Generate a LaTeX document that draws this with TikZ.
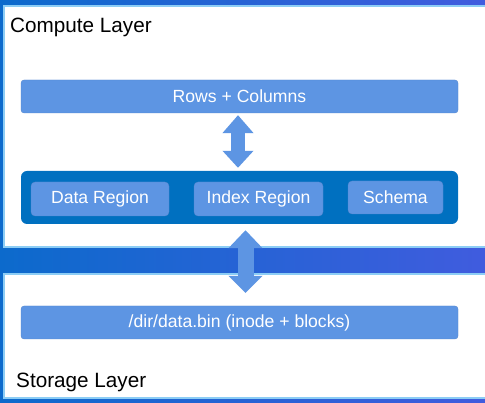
\documentclass[tikz,border=0pt]{standalone}
\usepackage{fontspec}
\setmainfont{Liberation Sans}
\usetikzlibrary{arrows.meta}
\definecolor{boxblue}{RGB}{93,149,227}
\definecolor{darkbox}{RGB}{0,112,192}
\definecolor{panelborder}{RGB}{140,205,245}
\definecolor{bgleft}{RGB}{12,106,204}
\definecolor{bgright}{RGB}{64,92,222}
\tikzset{
  panel/.style={fill=white, draw=panelborder, line width=1.6pt},
  lightbox/.style={fill=boxblue, draw=boxblue!90!black, line width=0.3pt, rounded corners=3pt, inner sep=0pt, text=white, font=\fontsize{17.6}{20}\selectfont},
  container/.style={fill=darkbox, rounded corners=6pt, inner sep=0pt},
  layerlabel/.style={anchor=base west, inner sep=0pt, font=\fontsize{20.7}{24}\selectfont},
  dblarrow/.style={draw=boxblue, line width=#1},
}
\begin{document}
\begin{tikzpicture}[x=1pt,y=-1pt]
\useasboundingbox (0,0) rectangle (485,403);
\shade[left color=bgleft, right color=bgright] (0,0) rectangle (485,403);
% panels
\draw[panel] (4,6) rectangle (492,247);
\draw[panel] (4,274) rectangle (492,398);
% labels
\node[layerlabel] (computelbl) at (10,33) {Compute Layer};
\node[layerlabel] (storagelbl) at (16,388) {Storage Layer};
% boxes
\node[lightbox, minimum width=437pt, minimum height=33pt] (rows) at (239.5,96.5) {Rows + Columns};
\node[container, minimum width=437pt, minimum height=53pt] (cont) at (239.5,197.5) {};
\node[lightbox, rounded corners=4pt, minimum width=138pt, minimum height=34pt] (data) at (100,199) {Data Region};
\node[lightbox, rounded corners=4pt, minimum width=129pt, minimum height=34pt] (index) at (258.5,199) {Index Region};
\node[lightbox, rounded corners=4pt, minimum width=95pt, minimum height=33pt] (schema) at (395.5,197.5) {Schema};
\node[lightbox, minimum width=437pt, minimum height=33pt] (file) at (239.5,322.5) {/dir/data.bin (inode + blocks)};
% arrows
\draw[dblarrow=14pt, {Triangle[width=30pt,length=18pt]}-{Triangle[width=30pt,length=17pt]}]
  ([shift={(-1.5,2)}]rows.south) -- ([shift={(-1.5,-3)}]cont.north);
\draw[dblarrow=16pt, {Triangle[width=33pt,length=18pt]}-{Triangle[width=33pt,length=17pt]}]
  ([shift={(6,6)}]cont.south) -- ([shift={(6,-13)}]file.north);
\end{tikzpicture}
\end{document}
